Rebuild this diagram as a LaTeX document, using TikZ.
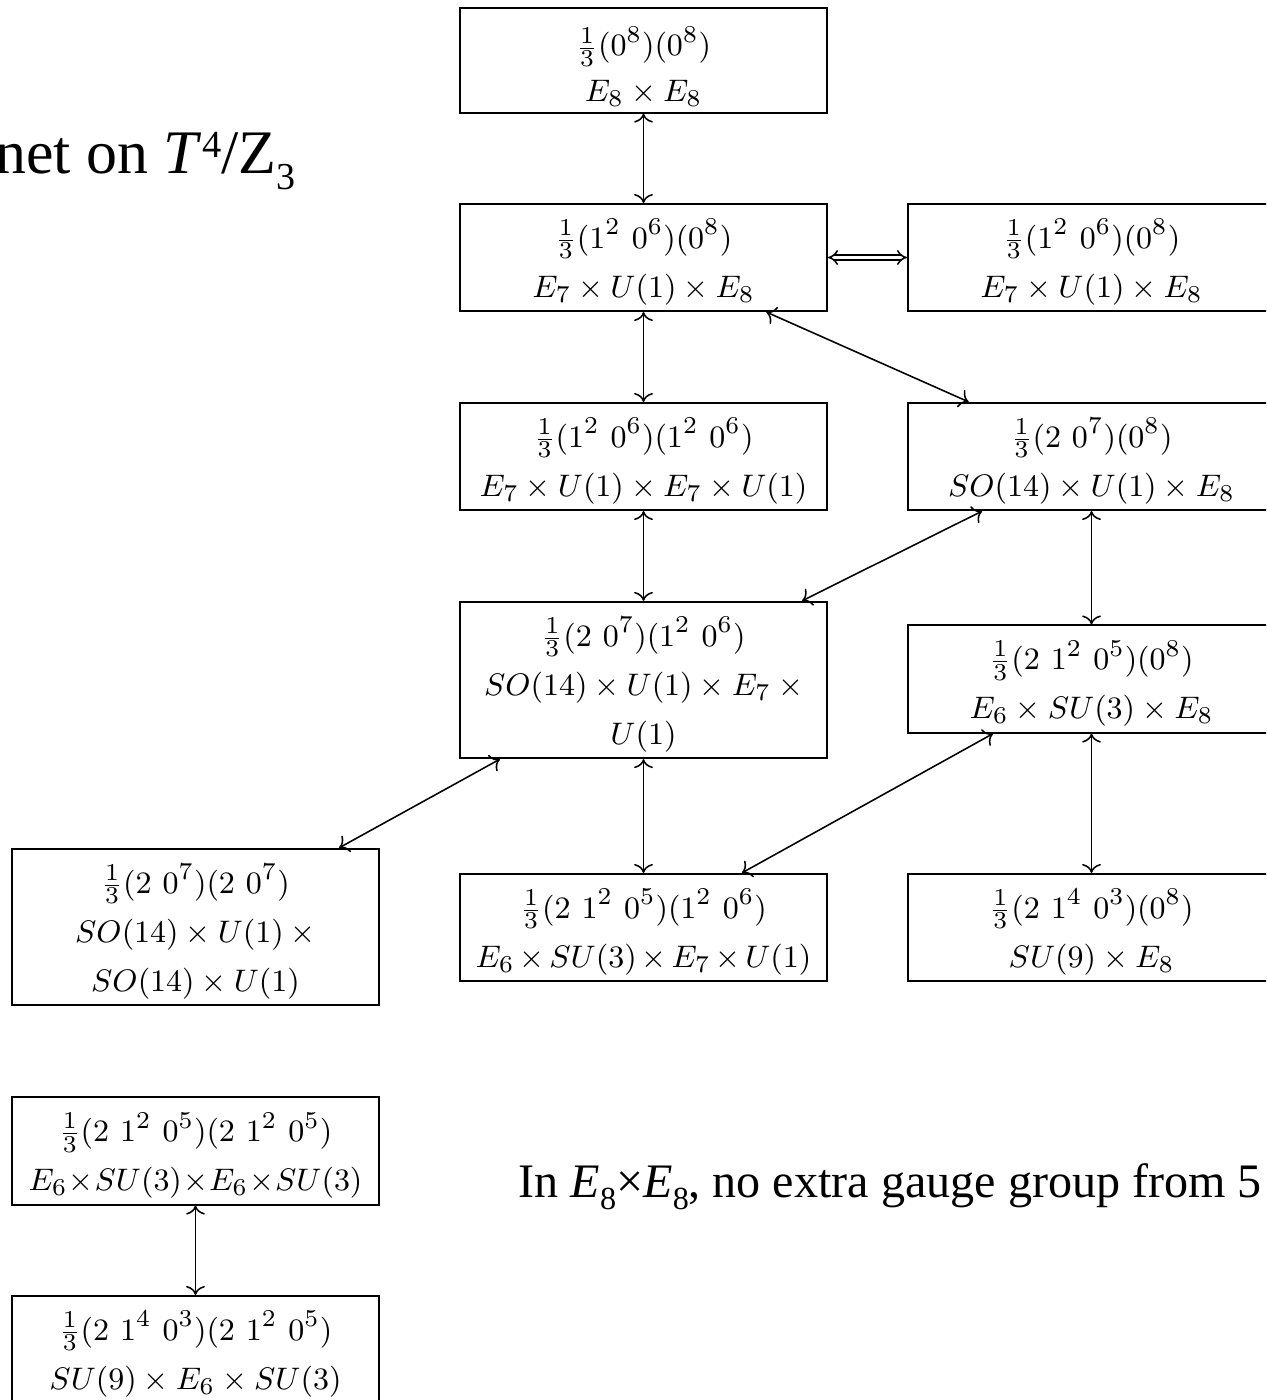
\documentclass[tikz,border=0pt]{standalone}
\usepackage{fontspec}
\newfontfamily\slidefont{Liberation Serif}
\usetikzlibrary{arrows.meta}

% first line of every box sits a little lower than the node centring gives
\newcommand{\toprow}{\rule{0pt}{11pt}}

\begin{document}
\begin{tikzpicture}[x=0.289pt,y=-0.289pt,
  gbox/.style={draw, line width=0.5pt, text width=97pt, align=flush center,
               inner xsep=4.55pt, inner ysep=1.8pt,
               font=\fontsize{9.5}{14.2}\selectfont},
  link/.style={<->, line width=0.45pt},
  dlink/.style={{Implies}-{Implies}, double, double distance=1pt, line width=0.45pt},
  slide/.style={font=\slidefont\fontsize{#1}{#1}\selectfont, inner sep=0pt}
]
\useasboundingbox (0,0) rectangle (1266,1400);
\clip (0,0) rectangle (1266,1400);

% title fragment and remark
\node[slide=17.9, anchor=base east] (title) at (296,173)
  {net on \textit{T}\raisebox{4.6pt}{\fontsize{11.1}{12}\selectfont 4}/Z\raisebox{-4.8pt}{\fontsize{11}{12}\selectfont 3}};
\node[slide=13.9, anchor=base west] (note) at (518,1197)
  {In \textit{E}\raisebox{-0.25em}{\fontsize{9.3}{10}\selectfont 8}×\textit{E}\raisebox{-0.25em}{\fontsize{9.3}{10}\selectfont 8}, no extra gauge group from 5};

% gauge group boxes
\node[gbox] (ee)  at (643.5,60.5)  {\rule{0pt}{12pt}$\frac{1}{3}(0^8)(0^8)$\\[-1pt] $E_8\times E_8$};
\node[gbox] (a)   at (643.5,257.5) {\toprow$\frac{1}{3}(1^2\ 0^6)(0^8)$\\ $E_7\times U(1)\times E_8$};
\node[gbox] (a2)  at (1091.5,257.5){\toprow$\frac{1}{3}(1^2\ 0^6)(0^8)$\\ $E_7\times U(1)\times E_8$};
\node[gbox] (b)   at (643.5,456.5) {\toprow$\frac{1}{3}(1^2\ 0^6)(1^2\ 0^6)$\\ $E_7\times U(1)\times E_7\times U(1)$};
\node[gbox] (c)   at (1091.5,456.5){\toprow$\frac{1}{3}(2\ 0^7)(0^8)$\\ $SO(14)\times U(1)\times E_8$};
\node[gbox] (d)   at (643.5,680)   {\toprow$\frac{1}{3}(2\ 0^7)(1^2\ 0^6)$\\
  $SO(14)\times U(1)\times E_7\times\mskip-\medmuskip{}$\\ $U(1)$};
\node[gbox] (e)   at (1091.5,679)  {\toprow$\frac{1}{3}(2\ 1^2\ 0^5)(0^8)$\\ $E_6\times SU(3)\times E_8$};
\node[gbox] (f)   at (195.5,927)   {\toprow$\frac{1}{3}(2\ 0^7)(2\ 0^7)$\\
  $SO(14)\times U(1)\times\mskip-\medmuskip{}$\\ $SO(14)\times U(1)$};
\node[gbox] (g)   at (643.5,927.5) {\toprow$\frac{1}{3}(2\ 1^2\ 0^5)(1^2\ 0^6)$\\ $E_6\times SU(3)\times E_7\times U(1)$};
\node[gbox] (h)   at (1091.5,927.5){\toprow$\frac{1}{3}(2\ 1^4\ 0^3)(0^8)$\\ $SU(9)\times E_8$};
\node[gbox] (k)   at (195.5,1151)  {\toprow$\frac{1}{3}(2\ 1^2\ 0^5)(2\ 1^2\ 0^5)$\\
  \mbox{$\medmuskip=0.6mu E_6\times SU(3)\times E_6\times SU(3)$}};
\node[gbox] (m)   at (195.5,1349.5){\toprow$\frac{1}{3}(2\ 1^4\ 0^3)(2\ 1^2\ 0^5)$\\ $SU(9)\times E_6\times SU(3)$};

% connections
\draw[link] (ee) -- (a);
\draw[dlink] (a) -- (a2);
\draw[link] (a) -- (b);
\draw[link] (a) -- (c);
\draw[link] (b) -- (d);
\draw[link] (c) -- (d);
\draw[link] (c) -- (e);
\draw[link] (d) -- (f);
\draw[link] (d) -- (g);
\draw[link] (e) -- (g);
\draw[link] (e) -- (h);
\draw[link] (k) -- (m);
\end{tikzpicture}
\end{document}
